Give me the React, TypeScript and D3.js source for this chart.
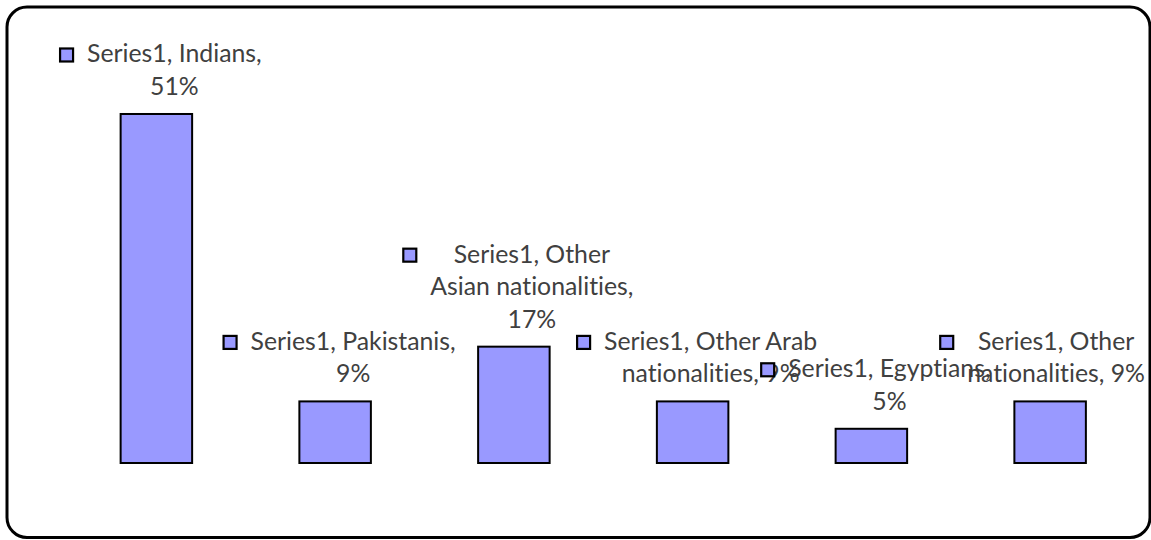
import React, { useEffect, useRef } from "react";
import * as d3 from "d3";

const seriesName = "Series1";
const categories = [
  "Indians",
  "Pakistanis",
  "Other Asian nationalities",
  "Other Arab nationalities",
  "Egyptians",
  "Other nationalities",
];
const values = [51, 9, 17, 9, 5, 9];
// how Excel wrapped each data label
const labelLines = [
  [`${seriesName}, Indians,`, "51%"],
  [`${seriesName}, Pakistanis,`, "9%"],
  [`${seriesName}, Other`, "Asian nationalities,", "17%"],
  [`${seriesName}, Other Arab`, "nationalities, 9%"],
  [`${seriesName}, Egyptians,`, "5%"],
  [`${seriesName}, Other`, "nationalities, 9%"],
];

function App() {
  const ref = useRef<SVGSVGElement>(null);

  useEffect(() => {
    document.body.style.margin = "0";
    const svg = d3.select(ref.current);
    svg.selectAll("*").remove();

    const fill = "#9999FF";
    const font = "Lato, 'Open Sans', sans-serif";
    const fontSize = 24.8;
    const lineH = 32.5;

    // chart frame
    svg.append("rect")
      .attr("x", 7).attr("y", 7)
      .attr("width", 1143).attr("height", 530.5)
      .attr("rx", 20).attr("ry", 20)
      .attr("fill", "#fff")
      .attr("stroke", "#000")
      .attr("stroke-width", 3);

    const x = d3.scaleBand()
      .domain(categories)
      .range([67, 1139.5])
      .paddingInner(0.6)
      .paddingOuter(0.3);
    const y = d3.scaleLinear().domain([0, 60]).range([463, 52.4]);

    svg.selectAll(".bar")
      .data(values)
      .enter().append("rect")
      .attr("class", "bar")
      .attr("x", (d, i) => x(categories[i]))
      .attr("width", x.bandwidth())
      .attr("y", d => y(d))
      .attr("height", d => y(0) - y(d))
      .attr("fill", fill)
      .attr("stroke", "#000")
      .attr("stroke-width", 2);

    // data labels with legend keys
    values.forEach((v, i) => {
      const lines = labelLines[i];
      const g = svg.append("g");
      const t = g.append("text")
        .attr("text-anchor", "middle")
        .style("font-family", font)
        .style("font-size", fontSize + "px")
        .style("font-variant-ligatures", "none")
        .attr("fill", "#404040");
      const lastBase = y(v) - 19;
      const firstBase = lastBase - (lines.length - 1) * lineH;
      lines.forEach((ln, j) => {
        t.append("tspan").attr("x", 0).attr("y", firstBase + j * lineH).text(ln);
      });
      const w = (t.node() as SVGTextElement).getBBox().width;
      const center = (x(categories[i]) as number) + x.bandwidth() / 2;
      const cx = Math.min(center + 18, 1145 - w / 2);
      g.attr("transform", `translate(${cx},0)`);
      g.append("rect")
        .attr("x", -w / 2 - 27)
        .attr("y", firstBase - 16 + 2)
        .attr("width", 13).attr("height", 13)
        .attr("fill", fill)
        .attr("stroke", "#000")
        .attr("stroke-width", 2.2);
    });
  }, []);

  return <svg ref={ref} width={1151} height={540} style={{ display: "block" }}></svg>;
}

export default App;
